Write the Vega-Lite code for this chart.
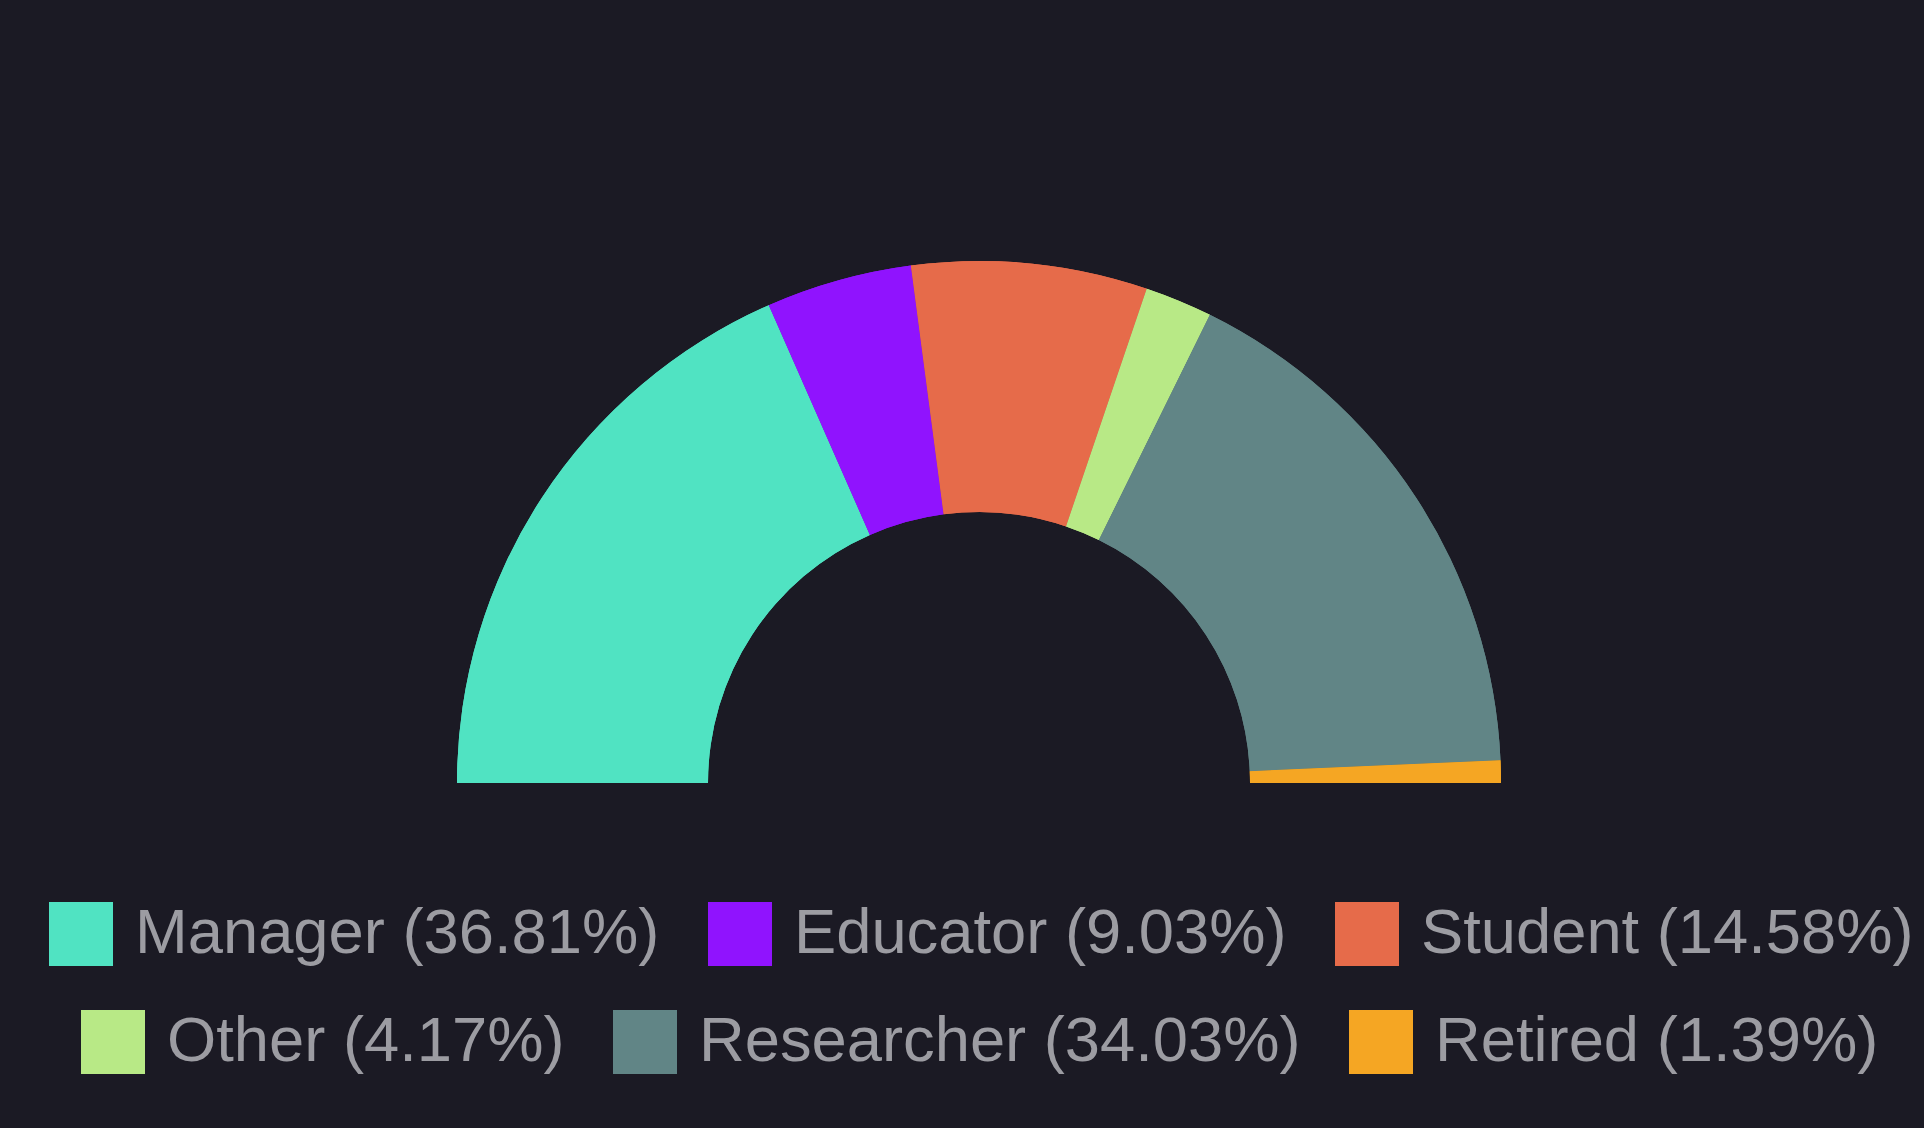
{
  "$schema": "https://vega.github.io/schema/vega-lite/v6.json",
  "autosize": "none",
  "width": 1890,
  "height": 690,
  "padding": {"left": 34, "top": 438, "right": 0, "bottom": 0},
  "background": "#1b1a24",
  "data": {
    "values": [
      {"label": "Manager (36.81%)", "count": 53, "rank": 1},
      {"label": "Educator (9.03%)", "count": 13, "rank": 2},
      {"label": "Student (14.58%)", "count": 21, "rank": 3},
      {"label": "Other (4.17%)", "count": 6, "rank": 4},
      {"label": "Researcher (34.03%)", "count": 49, "rank": 5},
      {"label": "Retired (1.39%)", "count": 2, "rank": 6}
    ]
  },
  "layer": [
    {
      "mark": {"type": "arc", "innerRadius": 271, "outerRadius": 522},
      "encoding": {
        "theta": {"field": "count", "type": "quantitative", "stack": true, "scale": {"range": [-1.5707963, 1.5707963]}},
        "order": {"field": "rank", "type": "quantitative"},
        "color": {
          "field": "label", "type": "nominal",
          "scale": {
            "domain": ["Manager (36.81%)", "Educator (9.03%)", "Student (14.58%)", "Other (4.17%)", "Researcher (34.03%)", "Retired (1.39%)"],
            "range": ["#50e3c2", "#9013fe", "#e66b4a", "#b8e986", "#618586", "#f5a623"]
          },
          "legend": {
            "values": ["Manager (36.81%)", "Educator (9.03%)", "Student (14.58%)"],
            "orient": "none", "legendX": 15, "legendY": 464, "direction": "horizontal"
          }
        }
      }
    },
    {
      "mark": {"type": "arc", "innerRadius": 271, "outerRadius": 522},
      "encoding": {
        "theta": {"field": "count", "type": "quantitative", "stack": true},
        "order": {"field": "rank", "type": "quantitative"},
        "color": {
          "field": "label", "type": "nominal",
          "scale": {
            "domain": ["Other (4.17%)", "Researcher (34.03%)", "Retired (1.39%)", "Manager (36.81%)", "Educator (9.03%)", "Student (14.58%)"],
            "range": ["#b8e986", "#618586", "#f5a623", "#50e3c2", "#9013fe", "#e66b4a"]
          },
          "legend": {
            "values": ["Other (4.17%)", "Researcher (34.03%)", "Retired (1.39%)"],
            "orient": "none", "legendX": 47, "legendY": 572, "direction": "horizontal"
          }
        }
      }
    }
  ],
  "resolve": {"scale": {"color": "independent"}},
  "config": {
    "view": {"stroke": null},
    "legend": {
      "title": null,
      "padding": 0,
      "labelFont": "Liberation Sans",
      "labelFontSize": 63.3,
      "labelColor": "#9c9ca2",
      "labelOffset": 22,
      "columnPadding": 48,
      "symbolType": "square",
      "symbolSize": 4096,
      "symbolStrokeWidth": 0,
      "symbolOpacity": 1,
      "labelLimit": 0
    }
  }
}
